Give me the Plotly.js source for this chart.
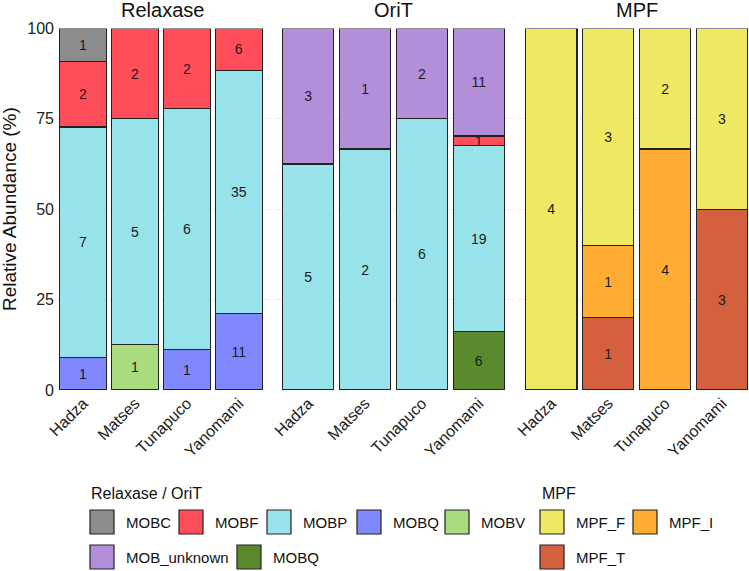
<!DOCTYPE html>
<html>
<head>
<meta charset="utf-8">
<script src="https://cdn.plot.ly/plotly-3.0.1.min.js"></script>
<style>html,body{margin:0;padding:0;background:#fff;}#chart{width:749px;height:571px;}</style>
</head>
<body>
<div id="chart"></div>
<script>
// ---- data (counts) ----
const groups = ['Hadza', 'Matses', 'Tunapuco', 'Yanomami'];
const facetNames = ['Relaxase', 'OriT', 'MPF'];

// Relaxase (bottom -> top)
const relaxase_MOBV = [0, 1, 0, 0];
const relaxase_MOBQ = [1, 0, 1, 11];
const relaxase_MOBP = [7, 5, 6, 35];
const relaxase_MOBF = [2, 2, 2, 6];
const relaxase_MOBC = [1, 0, 0, 0];

// OriT (bottom -> top)
const orit_MOBQ = [0, 0, 0, 6];
const orit_MOBP = [5, 2, 6, 19];
const orit_MOBF = [0, 0, 0, 1];
const orit_MOB_unknown = [3, 1, 2, 11];

// MPF (bottom -> top)
const mpf_MPF_T = [0, 1, 0, 3];
const mpf_MPF_I = [0, 1, 4, 0];
const mpf_MPF_F = [4, 3, 2, 3];

// ---- styles ----
const colors = {
  MOBC: '#8C8C8C', MOBF: '#FF4E59', MOBP: '#98E3EA', MOBQ: '#7F88FF', MOBV: '#A8DC7F',
  MOB_unknown: '#B28FD8', MOBQ_orit: '#5B8A2E',
  MPF_F: '#EFE862', MPF_I: '#FFAD33', MPF_T: '#D4603F'
};
const FONT = 'Liberation Sans, Arial, sans-serif';
const W = 749, H = 571;
const px = v => v / W;
const py = v => 1 - v / H;

const facets = [
  { ax: ['x', 'y'], series: [
      ['MOBV', relaxase_MOBV, colors.MOBV], ['MOBQ', relaxase_MOBQ, colors.MOBQ],
      ['MOBP', relaxase_MOBP, colors.MOBP], ['MOBF', relaxase_MOBF, colors.MOBF],
      ['MOBC', relaxase_MOBC, colors.MOBC]] },
  { ax: ['x2', 'y2'], series: [
      ['MOBQ', orit_MOBQ, colors.MOBQ_orit], ['MOBP', orit_MOBP, colors.MOBP],
      ['MOBF', orit_MOBF, colors.MOBF], ['MOB_unknown', orit_MOB_unknown, colors.MOB_unknown]] },
  { ax: ['x3', 'y3'], series: [
      ['MPF_T', mpf_MPF_T, colors.MPF_T], ['MPF_I', mpf_MPF_I, colors.MPF_I],
      ['MPF_F', mpf_MPF_F, colors.MPF_F]] }
];

const traces = [];
facets.forEach(f => {
  const totals = groups.map((g, i) => f.series.reduce((s, r) => s + r[1][i], 0));
  f.series.forEach(([name, counts, col]) => {
    traces.push({
      type: 'bar', name: name, x: groups,
      y: counts.map((c, i) => c > 0 ? c / totals[i] * 100 : null),
      text: counts.map(c => c > 0 ? String(c) : ''),
      textposition: 'inside', insidetextanchor: 'middle', textangle: 0,
      constraintext: 'none', cliponaxis: false,
      textfont: { family: FONT, size: 14, color: '#1a1a1a' },
      width: 0.9,
      marker: { color: col, line: { color: '#222222', width: 1.2 } },
      xaxis: f.ax[0], yaxis: f.ax[1], showlegend: false, hoverinfo: 'skip'
    });
  });
});

const yDomain = [py(390), py(28.5)];
const xBase = {
  type: 'category', categoryorder: 'array', categoryarray: groups,
  tickangle: -45, ticks: '', showline: false, showgrid: false, zeroline: false,
  tickfont: { family: FONT, size: 16, color: '#222' }
};
const yBase = {
  range: [0, 100], domain: yDomain, tickvals: [0, 25, 50, 75, 100], ticks: '',
  showline: false, showgrid: true, gridcolor: '#eeeeee', gridwidth: 1, zeroline: false,
  tickfont: { family: FONT, size: 16, color: '#222' }
};

const annotations = [];
const titleCenters = [[55, 270], [274.2, 512.9], [517.2, 756]];
facetNames.forEach((n, i) => {
  annotations.push({ text: n, xref: 'paper', yref: 'paper',
    x: px((titleCenters[i][0] + titleCenters[i][1]) / 2), y: py(10),
    xanchor: 'center', yanchor: 'middle', showarrow: false,
    font: { family: FONT, size: 20, color: '#111' } });
});
annotations.push({ text: 'Relative Abundance (%)', xref: 'paper', yref: 'paper',
  x: px(9), y: py(209), textangle: -90, xanchor: 'center', yanchor: 'middle',
  showarrow: false, font: { family: FONT, size: 19, color: '#111' } });

// ---- legend (manual) ----
const shapes = [];
const legendTitles = [['Relaxase / OriT', 89], ['MPF', 540]];
legendTitles.forEach(([t, x]) => annotations.push({ text: t, xref: 'paper', yref: 'paper',
  x: px(x), y: py(493), xanchor: 'left', yanchor: 'middle', showarrow: false,
  font: { family: FONT, size: 16, color: '#111' } }));
const legendItems = [
  ['MOBC', colors.MOBC, 90, 522], ['MOBF', colors.MOBF, 179, 522], ['MOBP', colors.MOBP, 267, 522],
  ['MOBQ', colors.MOBQ, 357, 522], ['MOBV', colors.MOBV, 445, 522],
  ['MOB_unknown', colors.MOB_unknown, 90, 557], ['MOBQ', colors.MOBQ_orit, 237, 557],
  ['MPF_F', colors.MPF_F, 540, 522], ['MPF_I', colors.MPF_I, 633, 522], ['MPF_T', colors.MPF_T, 540, 557]
];
legendItems.forEach(([t, c, x, y]) => {
  shapes.push({ type: 'rect', xref: 'paper', yref: 'paper',
    x0: px(x), x1: px(x + 24), y0: py(y + 12), y1: py(y - 12),
    fillcolor: c, line: { color: '#222', width: 1.2 } });
  annotations.push({ text: t, xref: 'paper', yref: 'paper', x: px(x + 34), y: py(y),
    xanchor: 'left', yanchor: 'middle', showarrow: false,
    font: { family: FONT, size: 15, color: '#111' } });
});

const layout = {
  width: W, height: H, margin: { l: 0, r: 0, t: 0, b: 0 },
  paper_bgcolor: '#fff', plot_bgcolor: '#fff', barmode: 'stack', showlegend: false,
  font: { family: FONT, color: '#222' },
  xaxis: Object.assign({}, xBase, { domain: [px(55), px(270)], range: [-0.54, 3.6], anchor: 'y' }),
  xaxis2: Object.assign({}, xBase, { domain: [px(274.2), px(512.9)], range: [-0.6, 3.6], anchor: 'y2' }),
  xaxis3: Object.assign({}, xBase, { domain: [px(517.2), 1], range: [-0.6, 3.474], anchor: 'y3' }),
  yaxis: Object.assign({}, yBase, { anchor: 'x' }),
  yaxis2: Object.assign({}, yBase, { anchor: 'x2', showticklabels: false }),
  yaxis3: Object.assign({}, yBase, { anchor: 'x3', showticklabels: false }),
  annotations: annotations, shapes: shapes
};

Plotly.newPlot('chart', traces, layout, { staticPlot: true, displayModeBar: false });
</script>
</body>
</html>
